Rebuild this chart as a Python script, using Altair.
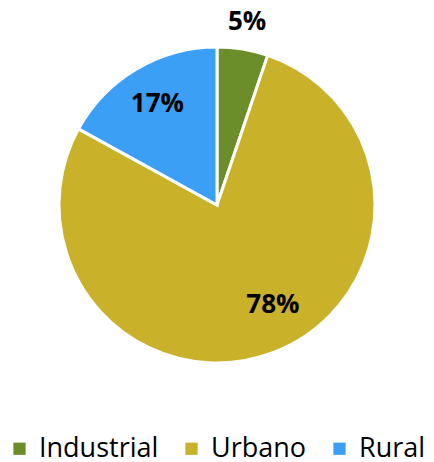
import altair as alt
import pandas as pd

categories = ["Industrial", "Urbano", "Rural"]
values = [5.2, 77.8, 17.0]
labels = ["5%", "78%", "17%"]
colors = ["#6B8E2A", "#C9B229", "#3B9FF5"]

df = pd.DataFrame({"cat": categories, "value": values, "label": labels, "idx": [0, 1, 2]})

CX, CY = 209, 197
theta_scale = alt.Scale(domain=[0, 100])

base = alt.Chart(df)

arc = base.mark_arc(outerRadius=158, stroke="white", strokeWidth=3).encode(
    theta=alt.Theta("value:Q", stack=True, scale=theta_scale),
    order=alt.Order("idx:Q"),
    color=alt.Color(
        "cat:N",
        scale=alt.Scale(domain=categories, range=colors),
        sort=categories,
        legend=alt.Legend(
            title=None,
            orient="none",
            direction="horizontal",
            legendX=-2,
            legendY=427,
            padding=0,
            symbolType="square",
            symbolSize=150,
            symbolStrokeWidth=0,
            labelFont="Open Sans",
            labelFontSize=27,
            labelColor="#000000",
            labelOffset=6,
            columnPadding=19,
            labelLimit=300,
        ),
    ),
    x=alt.value(CX),
    y=alt.value(CY),
)


def label_layer(cat, radius, dx=0, dy=0):
    return (
        base.transform_stack(stack="value", as_=["s", "e"], groupby=[], sort=[alt.SortField("idx")])
        .transform_calculate(mid="(datum.s + datum.e) / 2")
        .transform_filter(alt.datum.cat == cat)
        .mark_text(radius=radius, font="Open Sans", fontWeight="bold", fontSize=26, color="black", dx=dx, dy=dy)
        .encode(
            theta=alt.Theta("mid:Q", scale=theta_scale),
            text="label:N",
            x=alt.value(CX),
            y=alt.value(CY),
        )
    )


chart = alt.layer(
    arc,
    label_layer("Industrial", 185),
    label_layer("Urbano", 113, dx=15, dy=-5),
    label_layer("Rural", 117),
).properties(
    width=418, height=452, padding=0, autosize=alt.AutoSizeParams(type="none")
).configure_view(stroke=None)

chart.save("out.html", embed_options={"renderer": "svg", "actions": False})
